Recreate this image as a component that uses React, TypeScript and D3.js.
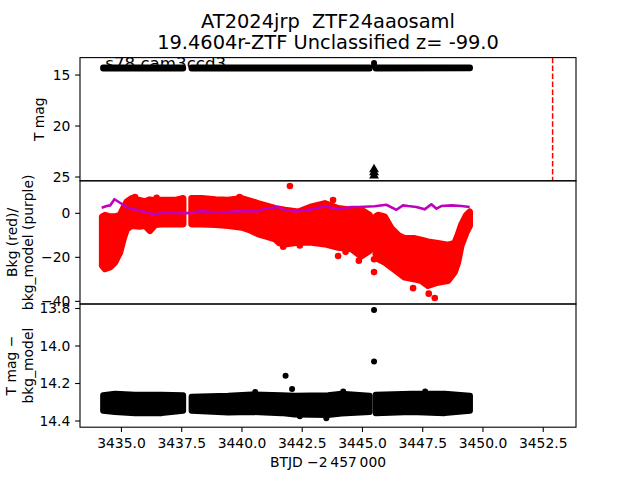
import React from 'react';
import * as d3 from 'd3';

// ---------- data ----------
const titleLines = ['AT2024jrp  ZTF24aaosaml', '19.4604r-ZTF Unclassified z= -99.0'];
const sectorLabel = 's78 cam3ccd3';

const xTicks = [3435.0, 3437.5, 3440.0, 3442.5, 3445.0, 3447.5, 3450.0, 3452.5];
const topTicks = [15, 20, 25];
const midTicks = [0, -20, -40];
const botTicks = [13.8, 14.0, 14.2, 14.4];

const xDomain = [3433.28, 3453.86];
const topDomain = [13.29, 25.37];
const midDomain = [-41.2, 14.77];
const botDomain = [13.776, 14.433];

// T mag band per orbit segment: [day, brightEdge, faintEdge]
const tmagSegA: [number, number, number][] = [[3434.24, 14.26, 14.35], [3437.56, 14.26, 14.35]];
const tmagSegB: [number, number, number][] = [[3437.91, 14.27, 14.35], [3445.30, 14.26, 14.36]];
const tmagSegC: [number, number, number][] = [[3445.55, 14.26, 14.36], [3449.46, 14.27, 14.34]];
const tmagOutliers: [number, number][] = [[3445.48, 13.81], [3445.48, 14.08]];
const tmagUpperLimits: [number, number][] = [[3445.48, 24.26], [3445.48, 24.55], [3445.48, 24.87]];
const discoveryDay = 3452.89;

// background flux per segment: [day, low, high]
const bkgSegA: [number, number, number][] = [
  [3434.20, -23.8, -1.5], [3434.32, -25.3, -0.8], [3434.53, -24.5, -1.5], [3434.73, -22.3, -1.5],
  [3434.94, -17.7, -0.8], [3435.08, -11.7, 2.3], [3435.22, -7.1, 5.3], [3435.43, -5.6, 6.8],
  [3435.75, -6.0, 6.0], [3435.98, -5.6, 5.3], [3436.18, -7.9, 6.2], [3436.40, -5.2, 5.8],
  [3436.67, -4.9, 6.0], [3437.22, -4.9, 6.0], [3437.56, -4.9, 6.8],
];
const bkgSegB: [number, number, number][] = [
  [3437.91, -4.9, 6.8], [3438.33, -4.9, 6.8], [3438.90, -5.2, 6.3], [3439.43, -5.6, 6.0],
  [3439.99, -6.4, 6.8], [3440.30, -7.5, 5.8], [3440.67, -9.4, 4.5], [3441.00, -10.5, 3.5],
  [3441.37, -11.7, 2.3], [3441.55, -13.5, 2.0], [3441.78, -14.0, 1.5], [3442.33, -13.2, 0.7],
  [3442.89, -13.2, 3.0], [3443.44, -14.0, 4.5], [3443.99, -15.5, 2.3], [3444.54, -16.2, 1.5],
  [3444.82, -18.5, 1.5], [3444.96, -19.4, 1.5], [3445.30, -17.0, -0.8],
];
const bkgSegC: [number, number, number][] = [
  [3445.55, -18.5, -1.5], [3445.65, -20.8, -0.8], [3445.92, -22.3, -1.5], [3446.20, -24.5, -6.8],
  [3446.48, -26.8, -9.9], [3446.75, -29.1, -11.4], [3447.17, -29.9, -11.4], [3447.44, -30.7, -12.1],
  [3447.72, -32.9, -12.9], [3448.13, -31.4, -13.6], [3448.55, -30.6, -14.4], [3448.82, -26.8, -13.6],
  [3448.96, -22.3, -9.9], [3449.10, -14.7, -5.3], [3449.31, -8.6, -0.8], [3449.45, -5.6, 0.7],
];
const bkgOutliers: [number, number][] = [
  [3441.99, 12.4], [3443.78, 6.0], [3443.99, -19.4], [3444.85, -21.5], [3445.48, -20.9],
  [3445.48, -26.7], [3447.10, -34.0], [3447.75, -36.5], [3448.00, -38.5], [3441.71, -15.2],
  [3442.40, -14.6], [3435.56, 7.4], [3436.46, 7.0], [3439.90, 7.4], [3444.30, -17.5],
];
const bkgModel: [number, number][] = [
  [3434.18, 2.5], [3434.39, 3.3], [3434.53, 3.6], [3434.71, 6.4], [3434.94, 4.8], [3435.29, 2.4],
  [3435.84, 1.0], [3436.39, -0.5], [3436.67, 0.3], [3437.77, 0.1], [3438.33, 1.0], [3438.88, 0.3],
  [3439.43, 0.6], [3439.99, 1.0], [3440.67, 1.0], [3440.95, 2.1], [3441.50, 2.9], [3441.78, 1.4],
  [3442.33, 0.9], [3442.89, 1.8], [3443.44, 3.2], [3443.99, 1.8], [3444.54, 2.9], [3444.82, 2.9],
  [3445.51, 3.2], [3445.99, 3.9], [3446.41, 1.6], [3446.68, 3.6], [3446.89, 3.3], [3447.24, 2.9],
  [3447.58, 1.8], [3447.86, 4.1], [3448.07, 2.1], [3448.27, 3.3], [3448.69, 3.6], [3449.10, 3.3],
  [3449.45, 2.9],
];

// T mag - bkg_model band per segment: [day, brightEdge, faintEdge]
const corrSegA: [number, number, number][] = [
  [3434.24, 14.262, 14.345], [3434.73, 14.255, 14.352], [3435.56, 14.260, 14.358],
  [3436.67, 14.260, 14.358], [3437.56, 14.262, 14.345],
];
const corrSegB: [number, number, number][] = [
  [3437.91, 14.270, 14.345], [3439.43, 14.265, 14.355], [3440.40, 14.258, 14.352],
  [3441.64, 14.262, 14.358], [3442.19, 14.265, 14.365], [3443.57, 14.262, 14.368],
  [3444.13, 14.255, 14.360], [3445.30, 14.265, 14.352],
];
const corrSegC: [number, number, number][] = [
  [3445.55, 14.260, 14.358], [3447.03, 14.255, 14.352], [3448.41, 14.255, 14.358],
  [3449.46, 14.265, 14.345],
];
const corrOutliers: [number, number][] = [
  [3445.48, 13.808], [3445.48, 14.083], [3441.81, 14.158], [3442.08, 14.229],
  [3440.55, 14.245], [3444.20, 14.242], [3442.40, 14.375], [3443.50, 14.385], [3447.60, 14.243],
];

// ---------- layout ----------
const W = 640, H = 480;
const L = 80, R = 576, T = 57.6, B = 427.2;
const PH = (B - T) / 3;
const FONT = 'DejaVu Sans, sans-serif';
const FS = 13.89;
const minus = (s: string) => s.replace('-', '\u2212');

export default function App() {
  const x = d3.scaleLinear().domain(xDomain).range([L, R]);
  const yTop = d3.scaleLinear().domain(topDomain).range([T, T + PH]);
  const yMid = d3.scaleLinear().domain(midDomain).range([T + 2 * PH, T + PH]);
  const yBot = d3.scaleLinear().domain(botDomain).range([T + 2 * PH, B]);

  const band = (y: d3.ScaleLinear<number, number>) =>
    d3.area<[number, number, number]>().x(d => x(d[0])).y0(d => y(d[1])).y1(d => y(d[2]));
  const modelLine = d3.line<[number, number]>().x(d => x(d[0])).y(d => yMid(d[1]));

  const tri = d3.symbol().type(d3.symbolTriangle).size(42)();

  const yAxis = (ticks: number[], y: d3.ScaleLinear<number, number>, fmt: (v: number) => string) => (
    <g>
      {ticks.map(t => (
        <g key={t}>
          <line x1={L - 4.86} x2={L} y1={y(t)} y2={y(t)} stroke="black" strokeWidth={1.1} />
          <text x={L - 9.7} y={y(t)} dy="0.35em" textAnchor="end" fontSize={FS} fontFamily={FONT}>
            {fmt(t)}
          </text>
        </g>
      ))}
    </g>
  );

  const frame = (top: number) => (
    <rect x={L} y={top} width={R - L} height={PH} fill="none" stroke="black" strokeWidth={1.1} />
  );

  return (
    <svg width={W} height={H} style={{ position: 'absolute', left: 0, top: 0, background: 'white' }}>
      <defs>
        <clipPath id="c0"><rect x={L} y={T} width={R - L} height={PH} /></clipPath>
        <clipPath id="c1"><rect x={L} y={T + PH} width={R - L} height={PH} /></clipPath>
        <clipPath id="c2"><rect x={L} y={T + 2 * PH} width={R - L} height={PH} /></clipPath>
      </defs>
      <rect x={0} y={0} width={W} height={H} fill="white" />

      {/* title */}
      {titleLines.map((t, i) => (
        <text key={i} x={(L + R) / 2} y={28 + i * 21} textAnchor="middle" fontSize={19.4} fontFamily={FONT}
          style={{ whiteSpace: 'pre' }}>
          {t}
        </text>
      ))}

      {/* ---- top panel ---- */}
      <text x={x(3434.33)} y={69} fontSize={16.67} fontFamily={FONT}>{sectorLabel}</text>
      <g clipPath="url(#c0)">
        {[tmagSegA, tmagSegB, tmagSegC].map((s, i) => (
          <path key={i} d={band(yTop)(s) || ''} fill="black" stroke="black" strokeWidth={6} strokeLinejoin="round" />
        ))}
        {tmagOutliers.map((d, i) => (
          <circle key={i} cx={x(d[0])} cy={yTop(d[1])} r={3} fill="black" />
        ))}
        {tmagUpperLimits.map((d, i) => (
          <path key={i} d={tri || ''} transform={`translate(${x(d[0])},${yTop(d[1])})`} fill="black" />
        ))}
        <line x1={x(discoveryDay)} x2={x(discoveryDay)} y1={T} y2={T + PH} stroke="red" strokeWidth={1.5} strokeDasharray="5.55,2.4" />
      </g>
      {frame(T)}
      {yAxis(topTicks, yTop, v => String(v))}
      <text transform={`translate(${39},${T + PH / 2}) rotate(-90)`} textAnchor="middle" dy="0.35em" fontSize={FS} fontFamily={FONT}>T mag</text>

      {/* ---- middle panel ---- */}
      <g clipPath="url(#c1)">
        {[bkgSegA, bkgSegB, bkgSegC].map((s, i) => (
          <path key={i} d={band(yMid)(s) || ''} fill="red" stroke="red" strokeWidth={6.6} strokeLinejoin="round" />
        ))}
        {bkgOutliers.map((d, i) => (
          <circle key={i} cx={x(d[0])} cy={yMid(d[1])} r={3.3} fill="red" />
        ))}
        <path d={modelLine(bkgModel) || ''} fill="none" stroke="#bf00bf" strokeWidth={2.6} strokeLinejoin="round" />
      </g>
      {frame(T + PH)}
      {yAxis(midTicks, yMid, v => minus(String(v)))}
      <text transform={`translate(${12},${T + 1.5 * PH}) rotate(-90)`} textAnchor="middle" dy="0.35em" fontSize={FS} fontFamily={FONT}>Bkg (red)/</text>
      <text transform={`translate(${28.5},${T + 1.5 * PH}) rotate(-90)`} textAnchor="middle" dy="0.35em" fontSize={FS} fontFamily={FONT}>bkg_model (purple)</text>

      {/* ---- bottom panel ---- */}
      <g clipPath="url(#c2)">
        {[corrSegA, corrSegB, corrSegC].map((s, i) => (
          <path key={i} d={band(yBot)(s) || ''} fill="black" stroke="black" strokeWidth={6} strokeLinejoin="round" />
        ))}
        {corrOutliers.map((d, i) => (
          <circle key={i} cx={x(d[0])} cy={yBot(d[1])} r={3} fill="black" />
        ))}
      </g>
      {frame(T + 2 * PH)}
      {yAxis(botTicks, yBot, v => v.toFixed(1))}
      <text transform={`translate(${11.5},${T + 2.5 * PH}) rotate(-90)`} textAnchor="middle" dy="0.35em" fontSize={FS} fontFamily={FONT}>T mag −</text>
      <text transform={`translate(${28.5},${T + 2.5 * PH}) rotate(-90)`} textAnchor="middle" dy="0.35em" fontSize={FS} fontFamily={FONT}>bkg_model</text>

      {/* x axis */}
      {xTicks.map(t => (
        <g key={t}>
          <line x1={x(t)} x2={x(t)} y1={B} y2={B + 4.86} stroke="black" strokeWidth={1.1} />
          <text x={x(t)} y={B + 20.5} textAnchor="middle" fontSize={FS} fontFamily={FONT}>{t.toFixed(1)}</text>
        </g>
      ))}
      <text x={(L + R) / 2} y={467} textAnchor="middle" fontSize={FS} fontFamily={FONT}>BTJD {'\u22122\u2009457\u2009000'}</text>
    </svg>
  );
}
